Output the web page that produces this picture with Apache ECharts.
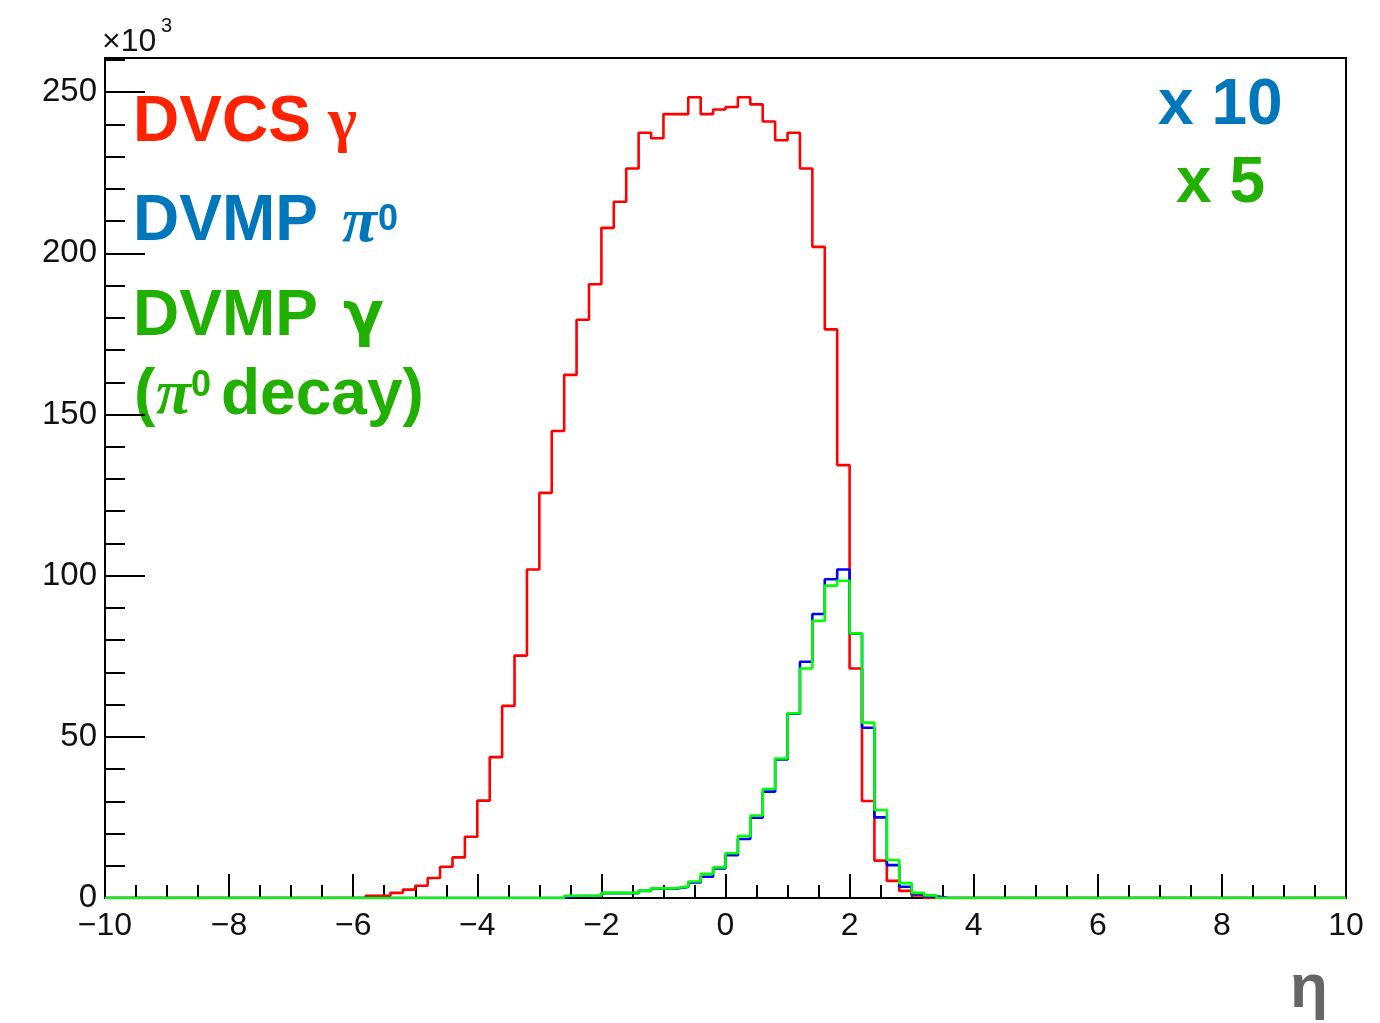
<!DOCTYPE html>
<html>
<head>
<meta charset="utf-8">
<script src="https://cdn.jsdelivr.net/npm/echarts@6/dist/echarts.min.js"></script>
<style>
html,body{margin:0;padding:0;background:#fff;}
#chart{width:1380px;height:1023px;}
</style>
</head>
<body>
<div id="chart"></div>
<script>
// ---- data (in units of 10^3) ----
const xMin = -10, xMax = 10, binWidth = 0.2;
const xTicks = [-10, -8, -6, -4, -2, 0, 2, 4, 6, 8, 10];
const yTicks = [0, 50, 100, 150, 200, 250];

// DVCS gamma, bins starting at eta = -5.8
const dvcsStart = -5.8;
const dvcsGamma = [0.7, 0.7, 1.6, 2.6, 3.8, 6.2, 9.7, 12.6, 19.0, 30.2,
  43.7, 59.6, 75.2, 101.9, 125.7, 144.9, 162.3, 179.4, 190.4, 207.9,
  216.0, 226.3, 237.4, 235.7, 243.2, 243.2, 248.4, 243.2, 244.6, 245.4,
  248.4, 246.2, 240.9, 235.1, 237.4, 226.3, 202.0, 176.4, 134.3, 71.2,
  30.1, 11.6, 5.3, 2.2, 0.8];

// DVMP pi0 (x10), bins starting at eta = -2.6
const dvmpStart = -2.6;
const dvmpPi0 = [0.6, 0.6, 0.6, 1.5, 1.5, 1.5, 2.2, 2.9, 2.9, 3.4,
  4.8, 6.6, 9.2, 13.3, 18.3, 24.9, 33.0, 43.0, 57.2, 73.3,
  88.1, 98.9, 101.9, 82.0, 52.8, 25.0, 10.2, 3.5, 1.2, 0.5];

// DVMP gamma from pi0 decay (x5), bins starting at eta = -2.6
const dvmpGamma = [0.7, 0.7, 0.7, 1.6, 1.6, 1.6, 2.3, 3.0, 3.0, 3.6,
  5.1, 7.5, 9.5, 13.9, 19.2, 25.6, 33.8, 43.3, 57.3, 71.2,
  86.0, 96.9, 98.4, 82.1, 54.4, 27.3, 11.8, 4.6, 1.6, 0.8];

// ---- build step-histogram points from bins ----
const nBins = Math.round((xMax - xMin) / binWidth);
function histPoints(start, vals) {
  const startIdx = Math.round((start - xMin) / binWidth);
  const full = new Array(nBins).fill(0);
  vals.forEach((v, i) => { full[startIdx + i] = v; });
  const pts = full.map((v, k) => [Math.round((xMin + k * binWidth) * 100) / 100, v]);
  pts.push([xMax, full[nBins - 1]]);
  return pts;
}

const chart = echarts.init(document.getElementById('chart'), null, {renderer: 'canvas'});
const tickFont = 'Liberation Sans, Arial, sans-serif';
const boldFont = 'Liberation Sans, Arial, sans-serif';

function fmtX(v) { return v < 0 ? '\u2212' + (-v) : String(v); }

const option = {
  animation: false,
  backgroundColor: '#ffffff',
  grid: {left: 105, top: 58, right: 34, bottom: 125, show: true, borderColor: '#000', borderWidth: 2, backgroundColor: 'transparent'},
  xAxis: {
    type: 'value', min: xMin, max: xMax, interval: 2,
    axisLine: {show: true, onZero: false, lineStyle: {color: '#000', width: 2}},
    axisTick: {show: true, inside: true, length: 24, lineStyle: {color: '#000', width: 2}},
    minorTick: {show: true, splitNumber: 4, length: 13, lineStyle: {color: '#000', width: 2}},
    splitLine: {show: false},
    axisLabel: {show: true, margin: 12, fontSize: 32, color: '#111', fontFamily: tickFont,
      formatter: function (v) { return xTicks.indexOf(v) >= 0 ? fmtX(v) : ''; }}
  },
  yAxis: [{
    type: 'value', min: 0, max: 260.6, interval: 10, position: 'left', offset: 0,
    axisLine: {show: true, onZero: false, lineStyle: {color: '#000', width: 2}},
    axisTick: {show: true, inside: true, length: 20, lineStyle: {color: '#000', width: 2}},
    splitLine: {show: false},
    axisLabel: {show: false}
  }, {
    type: 'value', min: 0, max: 260.6, interval: 50, position: 'left', offset: 0,
    axisLine: {show: false, onZero: false},
    axisTick: {show: true, inside: true, length: 40, lineStyle: {color: '#000', width: 2}},
    splitLine: {show: false},
    axisLabel: {show: true, margin: 8, fontSize: 33, color: '#111', fontFamily: tickFont,
      formatter: function (v) { return yTicks.indexOf(v) >= 0 ? String(v) : ''; }}
  }],
  series: [
    {type: 'line', name: 'DVCS', step: 'end', showSymbol: false, symbol: 'none', data: histPoints(dvcsStart, dvcsGamma),
      lineStyle: {color: '#ff0000', width: 2.6}, z: 3},
    {type: 'line', name: 'DVMP pi0', step: 'end', showSymbol: false, symbol: 'none', data: histPoints(dvmpStart, dvmpPi0),
      lineStyle: {color: '#0000ff', width: 2.6}, z: 4},
    {type: 'line', name: 'DVMP gamma', step: 'end', showSymbol: false, symbol: 'none', data: histPoints(dvmpStart, dvmpGamma),
      lineStyle: {color: '#00ff00', width: 2.6}, z: 5}
  ],
  graphic: [
    {type: 'text', x: 102, y: 42, style: {text: '\u00d710', font: '32px ' + tickFont, fill: '#111', verticalAlign: 'middle'}},
    {type: 'text', x: 161, y: 26, style: {text: '3', font: '20px ' + tickFont, fill: '#111', verticalAlign: 'middle'}},

    {type: 'text', x: 133, y: 123, style: {text: 'DVCS', font: 'bold 64px ' + boldFont, fill: '#ff2200', verticalAlign: 'middle'}},
    {type: 'text', x: 328, y: 124, style: {text: '\u03b3', font: 'bold 62px Liberation Serif, serif', fill: '#ff2200', verticalAlign: 'middle'}},

    {type: 'text', x: 133, y: 222, style: {text: 'DVMP', font: 'bold 64px ' + boldFont, fill: '#0077bb', verticalAlign: 'middle'}},
    {type: 'text', x: 342, y: 224, style: {text: '\u03c0', font: 'italic bold 64px Liberation Serif, serif', fill: '#0077bb', verticalAlign: 'middle'}},
    {type: 'text', x: 378, y: 220, style: {text: '0', font: 'bold 36px ' + boldFont, fill: '#0077bb', verticalAlign: 'middle'}},

    {type: 'text', x: 133, y: 317, style: {text: 'DVMP', font: 'bold 64px ' + boldFont, fill: '#22b000', verticalAlign: 'middle'}},
    {type: 'text', x: 343, y: 318, style: {text: '\u03b3', font: 'bold 60px DejaVu Sans, sans-serif', fill: '#22b000', verticalAlign: 'middle'}},

    {type: 'text', x: 134, y: 396, style: {text: '(', font: 'bold 64px ' + boldFont, fill: '#22b000', verticalAlign: 'middle'}},
    {type: 'text', x: 156, y: 396, style: {text: '\u03c0', font: 'italic bold 64px Liberation Serif, serif', fill: '#22b000', verticalAlign: 'middle'}},
    {type: 'text', x: 191, y: 386, style: {text: '0', font: 'bold 36px ' + boldFont, fill: '#22b000', verticalAlign: 'middle'}},
    {type: 'text', x: 221, y: 396, style: {text: 'decay)', font: 'bold 64px ' + boldFont, fill: '#22b000', verticalAlign: 'middle'}},

    {type: 'text', x: 1158, y: 106, style: {text: 'x 10', font: 'bold 64px ' + boldFont, fill: '#0077bb', verticalAlign: 'middle'}},
    {type: 'text', x: 1176, y: 184, style: {text: 'x 5', font: 'bold 64px ' + boldFont, fill: '#22b000', verticalAlign: 'middle'}},

    {type: 'text', x: 1290, y: 990, style: {text: '\u03b7', font: 'bold 62px ' + boldFont, fill: '#666666', verticalAlign: 'middle'}}
  ]
};
chart.setOption(option);
</script>
</body>
</html>
